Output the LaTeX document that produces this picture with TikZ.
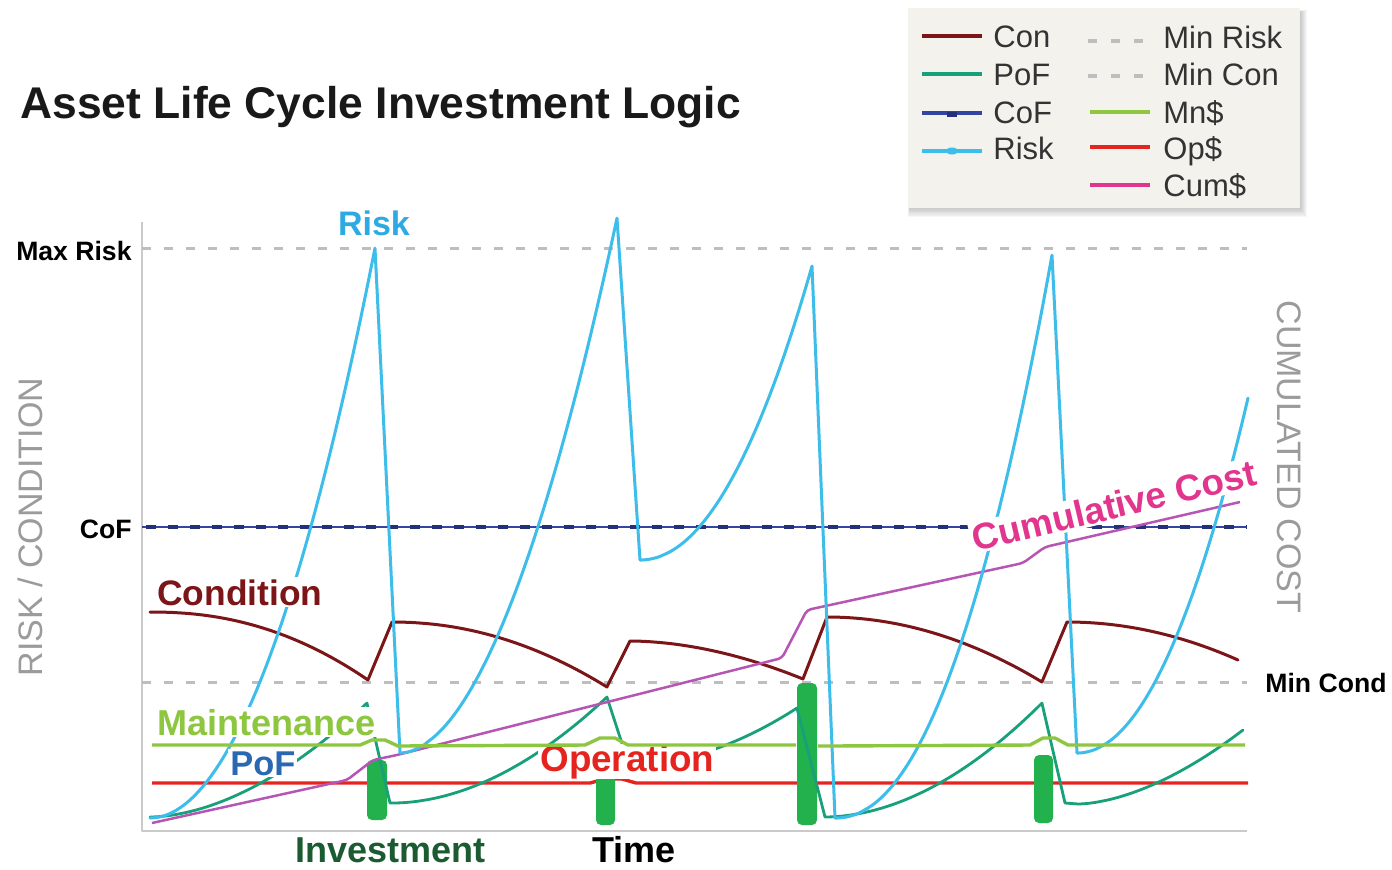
\documentclass[tikz,border=0pt]{standalone}
\usepackage{fontspec}
\setmainfont{Liberation Sans}
\newcommand{\fsz}[1]{\fontsize{#1}{#1}\selectfont}
\definecolor{riskc}{HTML}{3DBDEA}
\definecolor{riskt}{HTML}{2DAAE1}
\definecolor{condc}{HTML}{7B1517}
\definecolor{pofc}{HTML}{17A07A}
\definecolor{poft}{HTML}{2A68B1}
\definecolor{cofc}{HTML}{3245A0}
\definecolor{cofd}{HTML}{24307A}
\definecolor{maintc}{HTML}{8DC63F}
\definecolor{opc}{HTML}{E5231F}
\definecolor{cumc}{HTML}{B655B4}
\definecolor{cumt}{HTML}{E2358D}
\definecolor{invc}{HTML}{22B14C}
\definecolor{invt}{HTML}{1B5B31}
\definecolor{dashg}{HTML}{BEBEBE}
\definecolor{axisg}{HTML}{CACACA}
\definecolor{axt}{HTML}{9B9B9B}
\definecolor{legbg}{HTML}{F4F2ED}
\definecolor{legt}{HTML}{333333}
\begin{document}
\begin{tikzpicture}[x=0.5pt,y=-0.5pt,line join=round,
  curve/.style={line width=1.5pt, line cap=round},
  gdash/.style={draw=dashg, line width=1.5pt, dash pattern=on 4.5pt off 6.5pt},
  legdash/.style={draw=dashg, line width=1.8pt, dash pattern=on 4.5pt off 7pt},
  lbl/.style={font={\fsz{18}\bfseries}, inner sep=1pt, fill=white},
  plainlbl/.style={font={\fsz{13.3}\bfseries}, inner sep=0pt, text=black},
  axlbl/.style={font={\fsz{17}}, text=axt, inner sep=0pt},
  legtxt/.style={font={\fsz{15.5}}, text=legt, inner sep=0pt, anchor=base west},
  legline/.style={line width=2pt},
  invbar/.style={fill=invc, rounded corners=2.5pt},
]
\useasboundingbox (0,0) rectangle (1392,869);
\fill[white] (0,0) rectangle (1392,869);

% title
\node[font={\fsz{22.2}\bfseries}, text=black!90, anchor=base west, inner sep=0pt] (title) at (20,118) {Asset Life Cycle Investment Logic};

% axes
\draw[axisg, line width=1pt] (142,222) -- (142,831) -- (1247,831);

% reference lines
\draw[gdash] (142,248) -- (1247,248);
\draw[gdash] (142,682) -- (1247,682);
\draw[cofc, line width=1.3pt] (142,527) -- (1247,527);
\draw[cofd, line width=2.2pt, dash pattern=on 5pt off 6pt] (146,527) -- (1247,527);

% operation
\draw[opc, line width=1.7pt] (152,783) -- (590,783) -- (605,779) -- (622,779) -- (636,783) -- (1248,783);

% investment bars
\path[invbar] (367,760) rectangle (387,820);
\path[invbar] (596,775) rectangle (615,825);
\path[invbar] (797,683) rectangle (817,825);
\path[invbar] (1034,755) rectangle (1053,823);

% condition
\draw[curve, condc] (150,612)
  -- plot[domain=0.01:1, samples=40, variable=\q] ({150+218*\q},{612+68*\q^2.2})
  -- (392,622)
  -- plot[domain=0.01:1, samples=40, variable=\q] ({392+215*\q},{622+65*\q^2.05})
  -- (630,641)
  -- plot[domain=0.01:1, samples=40, variable=\q] ({630+173*\q},{641+38*\q^1.85})
  -- (827,617)
  -- plot[domain=0.01:1, samples=40, variable=\q] ({827+215*\q},{617+65*\q^2})
  -- (1067,622)
  -- plot[domain=0.01:1, samples=40, variable=\q] ({1067+171*\q},{622+38*\q^2});

% PoF
\draw[curve, pofc, line width=1.4pt] (150,817)
  -- plot[domain=0.01:1, samples=40, variable=\q] ({150+217*\q},{817-114*\q^1.8})
  -- (390,803) -- (393,803)
  -- plot[domain=0.01:1, samples=40, variable=\q] ({393+214*\q},{803-106*\q^1.9})
  -- (629,765)
  -- plot[domain=0.01:1, samples=40, variable=\q] ({629+168*\q},{765-57*\q^1.9})
  -- (825,817)
  -- plot[domain=0.01:1, samples=40, variable=\q] ({825+217*\q},{817-114*\q^1.9})
  -- (1065,803) -- (1078,804)
  -- plot[domain=0.01:1, samples=40, variable=\q] ({1078+165*\q},{804-74*\q^1.7});

% cumulative cost
\draw[cumc, line width=1.25pt, rounded corners=2pt] (152,823) -- (347,780) -- (373,760) -- (397,755) -- (782,658) -- (807,610) -- (1023,563) -- (1045,547) -- (1240,502);

% risk
\draw[curve, riskc] (150,818)
  -- plot[domain=0.01:1, samples=50, variable=\q] ({150+225*\q},{818-570*\q^2})
  -- (400,753)
  -- plot[domain=0.01:1, samples=50, variable=\q] ({400+217*\q},{753-535*\q^1.9})
  -- (640,560)
  -- plot[domain=0.01:1, samples=50, variable=\q] ({640+172*\q},{560-294*\q^2.05})
  -- (835,818)
  -- plot[domain=0.01:1, samples=50, variable=\q] ({835+217*\q},{818-563*\q^2.15})
  -- (1077,753)
  -- plot[domain=0.01:1, samples=50, variable=\q] ({1077+171*\q},{753-355*\q^2.05});

% in-plot labels
\node[lbl, text=riskt, anchor=base, font={\fsz{17}\bfseries}] (lrisk) at (374,235) {Risk};
\node[lbl, text=condc, anchor=base west, font={\fsz{17.7}\bfseries}] (lcond) at (155,605) {Condition};
\node[lbl, text=maintc, anchor=base west] (lmaint) at (155,735) {Maintenance};
\node[lbl, text=poft, anchor=base west, font={\fsz{17.2}\bfseries}] (lpof) at (228,775) {PoF};
\node[lbl, text=opc, anchor=base west, inner ysep=0pt, font={\fsz{18.4}\bfseries}] (lop) at (538,771) {Operation};
\node[lbl, text=cumt, anchor=base, rotate=13.3, font={\fsz{18.4}\bfseries}] (lcum) at (1117,518) {Cumulative Cost};

% maintenance (drawn over labels)
\draw[maintc, line width=1.7pt] (152,745) -- (360,745) -- (372,740) -- (385,740) -- (398,746) -- (585,745) -- (600,738) -- (615,738) -- (628,745) -- (796,745);
\draw[maintc, line width=1.7pt] (818,746) -- (830,746) -- (1030,745) -- (1043,738) -- (1055,738) -- (1068,745) -- (1245,745);

% axis / level labels
\node[plainlbl, anchor=base east] (lmax) at (132,260) {Max Risk};
\node[plainlbl, anchor=base east] (lcof) at (132,538) {CoF};
\node[plainlbl, anchor=base west] (lminc) at (1265,692) {Min Cond};
\node[font={\fsz{18}\bfseries}, text=invt, anchor=base west, inner sep=0pt] (linv) at (295,862) {Investment};
\node[font={\fsz{18}\bfseries}, text=black, anchor=base west, inner sep=0pt] (ltime) at (592,862) {Time};
\node[axlbl, rotate=90, anchor=base] (ylab) at (42,527) {RISK / CONDITION};
\node[axlbl, rotate=-90, anchor=base] (yrlab) at (1277,457) {CUMULATED COST};

% legend
\foreach \i in {1,...,7}{\fill[black, opacity=0.03] ({910-\i*0.3},{12-\i*0.3}) rectangle ({1300+\i},{208+\i*1.3});}
\fill[legbg] (908,8) rectangle (1300,208);
\draw[legline, condc] (922,36) -- (982,36);
\node[legtxt] (lgcon) at (993,47) {Con};
\draw[legline, pofc] (922,74) -- (982,74);
\node[legtxt] (lgpof) at (993,85) {PoF};
\draw[legline, cofc] (922,113) -- (982,113);
\fill[cofd] (947,112) rectangle (957,117);
\node[legtxt] (lgcof) at (993,123) {CoF};
\draw[legline, riskc] (922,151) -- (982,151);
\fill[riskc] (952,151) ellipse (6 and 3.5);
\node[legtxt] (lgrisk) at (993,159) {Risk};
\draw[legdash] (1088,41) -- (1144,41);
\node[legtxt] (lgminr) at (1163,48) {Min Risk};
\draw[legdash] (1088,76) -- (1144,76);
\node[legtxt] (lgminc) at (1163,85) {Min Con};
\draw[legline, maintc] (1090,112) -- (1150,112);
\node[legtxt] (lgmn) at (1163,123) {Mn\$};
\draw[legline, opc] (1090,147) -- (1150,147);
\node[legtxt] (lgop) at (1163,159) {Op\$};
\draw[legline, cumt] (1090,185) -- (1150,185);
\node[legtxt] (lgcum) at (1163,196) {Cum\$};
\end{tikzpicture}
\end{document}
